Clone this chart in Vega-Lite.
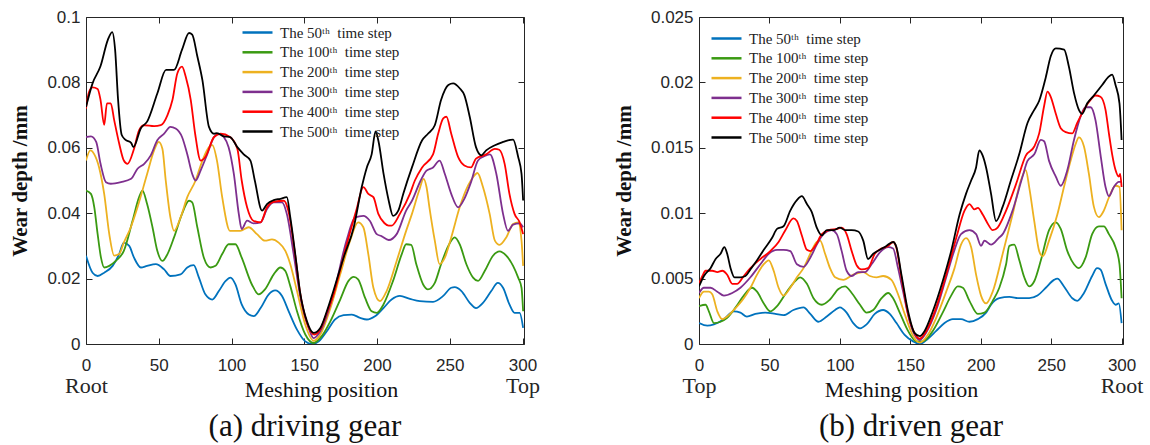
{
"$schema": "https://vega.github.io/schema/vega-lite/v6.json",
"autosize": {"type": "pad"},
"padding": {"left": 9, "top": 7, "right": 0, "bottom": 0},
"background": "white",
"datasets": {
"a": [
{"s":50,"x":0,"y":0.027},{"s":50,"x":4.5,"y":0.0218},{"s":50,"x":8,"y":0.0208},{"s":50,"x":12.5,"y":0.0218},{"s":50,"x":18.3,"y":0.0239},{"s":50,"x":22.8,"y":0.0275},{"s":50,"x":26,"y":0.031},{"s":50,"x":29.7,"y":0.03},{"s":50,"x":33,"y":0.0264},{"s":50,"x":37.7,"y":0.0234},{"s":50,"x":42,"y":0.0239},{"s":50,"x":48,"y":0.0244},{"s":50,"x":53.7,"y":0.0228},{"s":50,"x":58,"y":0.0208},{"s":50,"x":65,"y":0.0213},{"s":50,"x":69.6,"y":0.0234},{"s":50,"x":74,"y":0.0241},{"s":50,"x":77.6,"y":0.0203},{"s":50,"x":82,"y":0.0152},{"s":50,"x":86.8,"y":0.0136},{"s":50,"x":91.3,"y":0.0162},{"s":50,"x":96,"y":0.0193},{"s":50,"x":99.3,"y":0.0203},{"s":50,"x":102.7,"y":0.0182},{"s":50,"x":107,"y":0.0121},{"s":50,"x":111.9,"y":0.009},{"s":50,"x":115.3,"y":0.0085},{"s":50,"x":120,"y":0.011},{"s":50,"x":125.6,"y":0.0152},{"s":50,"x":130,"y":0.0164},{"s":50,"x":134.7,"y":0.0147},{"s":50,"x":139.3,"y":0.01},{"s":50,"x":145,"y":0.0044},{"s":50,"x":150.7,"y":0.0008},{"s":50,"x":155.3,"y":0},{"s":50,"x":160,"y":0.0008},{"s":50,"x":165.5,"y":0.0039},{"s":50,"x":171.2,"y":0.0075},{"s":50,"x":177,"y":0.0088},{"s":50,"x":182.7,"y":0.009},{"s":50,"x":188.4,"y":0.008},{"s":50,"x":193,"y":0.0075},{"s":50,"x":198.6,"y":0.0085},{"s":50,"x":204.4,"y":0.011},{"s":50,"x":210,"y":0.0136},{"s":50,"x":215.7,"y":0.0147},{"s":50,"x":222.6,"y":0.0138},{"s":50,"x":229.4,"y":0.0131},{"s":50,"x":238.5,"y":0.0129},{"s":50,"x":245.5,"y":0.0147},{"s":50,"x":251,"y":0.0172},{"s":50,"x":253.4,"y":0.0174},{"s":50,"x":258,"y":0.0162},{"s":50,"x":263.7,"y":0.0126},{"s":50,"x":268,"y":0.011},{"s":50,"x":272.8,"y":0.0126},{"s":50,"x":278.5,"y":0.0162},{"s":50,"x":283,"y":0.0187},{"s":50,"x":286.6,"y":0.0172},{"s":50,"x":291,"y":0.0121},{"s":50,"x":294.5,"y":0.0095},{"s":50,"x":298,"y":0.0095},{"s":50,"x":300.4,"y":0.0049},
{"s":100,"x":0,"y":0.0469},{"s":100,"x":3.4,"y":0.0459},{"s":100,"x":5.7,"y":0.0418},{"s":100,"x":8,"y":0.0336},{"s":100,"x":10.3,"y":0.0264},{"s":100,"x":12.5,"y":0.0234},{"s":100,"x":16,"y":0.0239},{"s":100,"x":20.5,"y":0.0254},{"s":100,"x":26,"y":0.0285},{"s":100,"x":32,"y":0.0377},{"s":100,"x":36.5,"y":0.0449},{"s":100,"x":38.8,"y":0.0469},{"s":100,"x":42,"y":0.0428},{"s":100,"x":45.7,"y":0.0357},{"s":100,"x":49,"y":0.0285},{"s":100,"x":52.5,"y":0.0254},{"s":100,"x":56,"y":0.0275},{"s":100,"x":60.5,"y":0.0326},{"s":100,"x":66,"y":0.0398},{"s":100,"x":70.8,"y":0.0438},{"s":100,"x":73,"y":0.0433},{"s":100,"x":76.5,"y":0.0357},{"s":100,"x":81,"y":0.0264},{"s":100,"x":85.6,"y":0.0234},{"s":100,"x":89,"y":0.0239},{"s":100,"x":93.6,"y":0.0275},{"s":100,"x":98,"y":0.0305},{"s":100,"x":102.7,"y":0.0305},{"s":100,"x":107,"y":0.0264},{"s":100,"x":114,"y":0.0182},{"s":100,"x":118.7,"y":0.0152},{"s":100,"x":123,"y":0.0167},{"s":100,"x":129,"y":0.0213},{"s":100,"x":133.6,"y":0.0234},{"s":100,"x":137,"y":0.0223},{"s":100,"x":140.4,"y":0.0177},{"s":100,"x":145,"y":0.01},{"s":100,"x":150.7,"y":0.0029},{"s":100,"x":156.4,"y":0.0003},{"s":100,"x":162,"y":0.0024},{"s":100,"x":168,"y":0.007},{"s":100,"x":174.7,"y":0.0136},{"s":100,"x":180.4,"y":0.0193},{"s":100,"x":184,"y":0.0205},{"s":100,"x":187,"y":0.0198},{"s":100,"x":191.8,"y":0.0141},{"s":100,"x":196.3,"y":0.01},{"s":100,"x":199.8,"y":0.0095},{"s":100,"x":204.4,"y":0.0121},{"s":100,"x":211,"y":0.0193},{"s":100,"x":217,"y":0.0275},{"s":100,"x":220,"y":0.0305},{"s":100,"x":223.5,"y":0.0303},{"s":100,"x":227,"y":0.0244},{"s":100,"x":231.7,"y":0.0182},{"s":100,"x":235,"y":0.0167},{"s":100,"x":239.7,"y":0.0187},{"s":100,"x":244,"y":0.0244},{"s":100,"x":249,"y":0.03},{"s":100,"x":253.4,"y":0.0326},{"s":100,"x":256.8,"y":0.0305},{"s":100,"x":261.4,"y":0.0244},{"s":100,"x":266,"y":0.0203},{"s":100,"x":269.4,"y":0.0193},{"s":100,"x":274,"y":0.0223},{"s":100,"x":279.7,"y":0.027},{"s":100,"x":284.2,"y":0.0283},{"s":100,"x":288.8,"y":0.027},{"s":100,"x":293.5,"y":0.0239},{"s":100,"x":297,"y":0.0203},{"s":100,"x":299.3,"y":0.0172},{"s":100,"x":300.4,"y":0.01},
{"s":200,"x":0,"y":0.0561},{"s":200,"x":3,"y":0.0592},{"s":200,"x":5.7,"y":0.058},{"s":200,"x":9,"y":0.054},{"s":200,"x":12.5,"y":0.0459},{"s":200,"x":16,"y":0.0336},{"s":200,"x":19.4,"y":0.027},{"s":200,"x":22.8,"y":0.0275},{"s":200,"x":26,"y":0.031},{"s":200,"x":30.8,"y":0.0357},{"s":200,"x":35.4,"y":0.0418},{"s":200,"x":42,"y":0.052},{"s":200,"x":46.8,"y":0.0592},{"s":200,"x":50,"y":0.0618},{"s":200,"x":52.5,"y":0.0597},{"s":200,"x":54.8,"y":0.05},{"s":200,"x":58,"y":0.0387},{"s":200,"x":60.5,"y":0.0346},{"s":200,"x":65,"y":0.0387},{"s":200,"x":69.6,"y":0.0449},{"s":200,"x":75.3,"y":0.05},{"s":200,"x":80,"y":0.0561},{"s":200,"x":84.5,"y":0.0602},{"s":200,"x":86.8,"y":0.0608},{"s":200,"x":90,"y":0.0561},{"s":200,"x":93.6,"y":0.0449},{"s":200,"x":99,"y":0.0346},{"s":200,"x":106,"y":0.0346},{"s":200,"x":111.8,"y":0.0357},{"s":200,"x":117.5,"y":0.0336},{"s":200,"x":123,"y":0.0316},{"s":200,"x":127.8,"y":0.032},{"s":200,"x":132.4,"y":0.031},{"s":200,"x":137,"y":0.0285},{"s":200,"x":140.4,"y":0.0244},{"s":200,"x":145,"y":0.0162},{"s":200,"x":150.7,"y":0.0059},{"s":200,"x":156.4,"y":0.001},{"s":200,"x":161,"y":0.0029},{"s":200,"x":168,"y":0.011},{"s":200,"x":174.7,"y":0.0213},{"s":200,"x":181.5,"y":0.0316},{"s":200,"x":187,"y":0.0372},{"s":200,"x":190.6,"y":0.0357},{"s":200,"x":194,"y":0.0275},{"s":200,"x":197.5,"y":0.0172},{"s":200,"x":202,"y":0.0131},{"s":200,"x":206.6,"y":0.0162},{"s":200,"x":213.5,"y":0.0254},{"s":200,"x":220,"y":0.0346},{"s":200,"x":224,"y":0.0398},{"s":200,"x":229,"y":0.047},{"s":200,"x":232,"y":0.0505},{"s":200,"x":234,"y":0.048},{"s":200,"x":236,"y":0.0418},{"s":200,"x":239.7,"y":0.0316},{"s":200,"x":243,"y":0.0244},{"s":200,"x":246.6,"y":0.0264},{"s":200,"x":251,"y":0.0326},{"s":200,"x":256.8,"y":0.0418},{"s":200,"x":262.6,"y":0.0485},{"s":200,"x":266,"y":0.051},{"s":200,"x":269,"y":0.0523},{"s":200,"x":272.8,"y":0.048},{"s":200,"x":277.4,"y":0.0398},{"s":200,"x":281,"y":0.0316},{"s":200,"x":284.2,"y":0.0303},{"s":200,"x":288.8,"y":0.0326},{"s":200,"x":293.5,"y":0.0367},{"s":200,"x":297,"y":0.0372},{"s":200,"x":299.3,"y":0.0316},{"s":200,"x":300.4,"y":0.0239},
{"s":300,"x":0,"y":0.0633},{"s":300,"x":3.4,"y":0.0635},{"s":300,"x":7,"y":0.0618},{"s":300,"x":10,"y":0.0551},{"s":300,"x":13.7,"y":0.0495},{"s":300,"x":17,"y":0.049},{"s":300,"x":24,"y":0.0495},{"s":300,"x":31,"y":0.0505},{"s":300,"x":35.4,"y":0.0536},{"s":300,"x":40,"y":0.0551},{"s":300,"x":44.5,"y":0.0577},{"s":300,"x":49,"y":0.0623},{"s":300,"x":53.7,"y":0.0643},{"s":300,"x":58,"y":0.0664},{"s":300,"x":61.6,"y":0.0659},{"s":300,"x":66,"y":0.0633},{"s":300,"x":69.6,"y":0.058},{"s":300,"x":73,"y":0.052},{"s":300,"x":75.3,"y":0.05},{"s":300,"x":78.8,"y":0.0531},{"s":300,"x":83.3,"y":0.058},{"s":300,"x":88,"y":0.0633},{"s":300,"x":91.3,"y":0.0643},{"s":300,"x":94.7,"y":0.0633},{"s":300,"x":98,"y":0.0602},{"s":300,"x":101.6,"y":0.052},{"s":300,"x":105,"y":0.0398},{"s":300,"x":107,"y":0.0351},{"s":300,"x":110.7,"y":0.0377},{"s":300,"x":115,"y":0.0369},{"s":300,"x":120,"y":0.0372},{"s":300,"x":124.4,"y":0.0413},{"s":300,"x":129,"y":0.0433},{"s":300,"x":134.7,"y":0.0433},{"s":300,"x":138,"y":0.0398},{"s":300,"x":142.7,"y":0.0275},{"s":300,"x":147,"y":0.0152},{"s":300,"x":153,"y":0.0049},{"s":300,"x":156.4,"y":0.0018},{"s":300,"x":161,"y":0.0039},{"s":300,"x":170,"y":0.0152},{"s":300,"x":179,"y":0.0316},{"s":300,"x":185,"y":0.0387},{"s":300,"x":190.6,"y":0.0392},{"s":300,"x":195,"y":0.0377},{"s":300,"x":199.8,"y":0.0336},{"s":300,"x":203,"y":0.033},{"s":300,"x":208,"y":0.0318},{"s":300,"x":213.5,"y":0.0336},{"s":300,"x":220,"y":0.0408},{"s":300,"x":224,"y":0.0438},{"s":300,"x":230,"y":0.05},{"s":300,"x":234,"y":0.053},{"s":300,"x":238.5,"y":0.054},{"s":300,"x":243,"y":0.0561},{"s":300,"x":246.6,"y":0.052},{"s":300,"x":251,"y":0.0459},{"s":300,"x":255.7,"y":0.0418},{"s":300,"x":260,"y":0.0444},{"s":300,"x":264.6,"y":0.0495},{"s":300,"x":269.4,"y":0.0561},{"s":300,"x":275,"y":0.0577},{"s":300,"x":277.6,"y":0.058},{"s":300,"x":282,"y":0.052},{"s":300,"x":286.6,"y":0.0398},{"s":300,"x":290,"y":0.0346},{"s":300,"x":293.5,"y":0.0365},{"s":300,"x":298,"y":0.0369},{"s":300,"x":300.4,"y":0.0357},
{"s":400,"x":0,"y":0.072},{"s":400,"x":2,"y":0.077},{"s":400,"x":4.5,"y":0.0785},{"s":400,"x":8,"y":0.078},{"s":400,"x":10,"y":0.0746},{"s":400,"x":12.5,"y":0.067},{"s":400,"x":14.4,"y":0.0736},{"s":400,"x":17,"y":0.0736},{"s":400,"x":19.4,"y":0.0684},{"s":400,"x":22.8,"y":0.0613},{"s":400,"x":26,"y":0.0561},{"s":400,"x":28.5,"y":0.0551},{"s":400,"x":33,"y":0.0597},{"s":400,"x":36.5,"y":0.0654},{"s":400,"x":40,"y":0.0669},{"s":400,"x":46.8,"y":0.0666},{"s":400,"x":51.4,"y":0.0669},{"s":400,"x":56,"y":0.07},{"s":400,"x":59.4,"y":0.0746},{"s":400,"x":62.8,"y":0.0828},{"s":400,"x":66,"y":0.0848},{"s":400,"x":68.5,"y":0.0818},{"s":400,"x":72,"y":0.0746},{"s":400,"x":75,"y":0.0643},{"s":400,"x":78.8,"y":0.0561},{"s":400,"x":82,"y":0.0572},{"s":400,"x":88,"y":0.0633},{"s":400,"x":92.5,"y":0.0643},{"s":400,"x":99,"y":0.0633},{"s":400,"x":104,"y":0.0597},{"s":400,"x":107,"y":0.05},{"s":400,"x":110.7,"y":0.0418},{"s":400,"x":115,"y":0.0377},{"s":400,"x":119.9,"y":0.0372},{"s":400,"x":124.4,"y":0.0418},{"s":400,"x":129,"y":0.0435},{"s":400,"x":136,"y":0.0438},{"s":400,"x":139,"y":0.0408},{"s":400,"x":143.8,"y":0.027},{"s":400,"x":147,"y":0.016},{"s":400,"x":151.8,"y":0.0065},{"s":400,"x":157,"y":0.0029},{"s":400,"x":161,"y":0.0045},{"s":400,"x":165.5,"y":0.0095},{"s":400,"x":170,"y":0.015},{"s":400,"x":179.2,"y":0.0305},{"s":400,"x":186,"y":0.0413},{"s":400,"x":190.6,"y":0.048},{"s":400,"x":194,"y":0.0459},{"s":400,"x":197.5,"y":0.0449},{"s":400,"x":200.9,"y":0.0398},{"s":400,"x":205,"y":0.037},{"s":400,"x":208,"y":0.0362},{"s":400,"x":210,"y":0.0362},{"s":400,"x":215.7,"y":0.0398},{"s":400,"x":222.6,"y":0.0459},{"s":400,"x":226,"y":0.05},{"s":400,"x":231,"y":0.054},{"s":400,"x":238.5,"y":0.058},{"s":400,"x":242,"y":0.0643},{"s":400,"x":245.5,"y":0.069},{"s":400,"x":247.7,"y":0.0695},{"s":400,"x":251,"y":0.0643},{"s":400,"x":255.7,"y":0.0572},{"s":400,"x":260,"y":0.0546},{"s":400,"x":264.6,"y":0.054},{"s":400,"x":268,"y":0.0567},{"s":400,"x":275,"y":0.058},{"s":400,"x":281,"y":0.0597},{"s":400,"x":284,"y":0.0594},{"s":400,"x":287.7,"y":0.0551},{"s":400,"x":291,"y":0.0459},{"s":400,"x":294.5,"y":0.0398},{"s":400,"x":298,"y":0.0372},{"s":400,"x":300.4,"y":0.0336},
{"s":500,"x":0,"y":0.0725},{"s":500,"x":4.5,"y":0.0797},{"s":500,"x":10,"y":0.085},{"s":500,"x":15,"y":0.093},{"s":500,"x":18,"y":0.0954},{"s":500,"x":20,"y":0.09},{"s":500,"x":22,"y":0.075},{"s":500,"x":24.5,"y":0.064},{"s":500,"x":27,"y":0.0625},{"s":500,"x":31,"y":0.0615},{"s":500,"x":32.6,"y":0.0602},{"s":500,"x":37.7,"y":0.066},{"s":500,"x":42,"y":0.068},{"s":500,"x":49,"y":0.0766},{"s":500,"x":55,"y":0.0838},{"s":500,"x":60.5,"y":0.0838},{"s":500,"x":66,"y":0.09},{"s":500,"x":70.8,"y":0.0951},{"s":500,"x":73,"y":0.0946},{"s":500,"x":76.5,"y":0.088},{"s":500,"x":80,"y":0.0807},{"s":500,"x":84.5,"y":0.0664},{"s":500,"x":88,"y":0.0643},{"s":500,"x":90,"y":0.0645},{"s":500,"x":94.7,"y":0.0635},{"s":500,"x":99,"y":0.0633},{"s":500,"x":104,"y":0.0602},{"s":500,"x":108.4,"y":0.058},{"s":500,"x":113,"y":0.0561},{"s":500,"x":116,"y":0.05},{"s":500,"x":121,"y":0.0408},{"s":500,"x":124.4,"y":0.0428},{"s":500,"x":129,"y":0.044},{"s":500,"x":133.6,"y":0.0444},{"s":500,"x":138,"y":0.0449},{"s":500,"x":140.4,"y":0.0387},{"s":500,"x":143.8,"y":0.0275},{"s":500,"x":147,"y":0.0162},{"s":500,"x":151.8,"y":0.007},{"s":500,"x":156.4,"y":0.0034},{"s":500,"x":161,"y":0.0049},{"s":500,"x":165.5,"y":0.01},{"s":500,"x":170,"y":0.0162},{"s":500,"x":177,"y":0.0264},{"s":500,"x":184,"y":0.0357},{"s":500,"x":189.5,"y":0.048},{"s":500,"x":193,"y":0.054},{"s":500,"x":196.3,"y":0.058},{"s":500,"x":199,"y":0.065},{"s":500,"x":201,"y":0.062},{"s":500,"x":204.5,"y":0.052},{"s":500,"x":208,"y":0.0439},{"s":500,"x":211,"y":0.0392},{"s":500,"x":214.6,"y":0.0408},{"s":500,"x":218,"y":0.0459},{"s":500,"x":224,"y":0.054},{"s":500,"x":231,"y":0.0623},{"s":500,"x":235,"y":0.0643},{"s":500,"x":239.7,"y":0.0669},{"s":500,"x":244,"y":0.0746},{"s":500,"x":249,"y":0.0792},{"s":500,"x":252.3,"y":0.0797},{"s":500,"x":256.8,"y":0.0782},{"s":500,"x":260,"y":0.0761},{"s":500,"x":263.7,"y":0.0695},{"s":500,"x":268,"y":0.0602},{"s":500,"x":271.7,"y":0.0577},{"s":500,"x":275,"y":0.0592},{"s":500,"x":281,"y":0.0608},{"s":500,"x":286.6,"y":0.0618},{"s":500,"x":290,"y":0.0623},{"s":500,"x":293.5,"y":0.0625},{"s":500,"x":297,"y":0.0572},{"s":500,"x":299.3,"y":0.052},{"s":500,"x":300.4,"y":0.0439}
],
"b": [
{"s":50,"x":0,"y":0.0016},{"s":50,"x":5.9,"y":0.0014},{"s":50,"x":10.6,"y":0.0015},{"s":50,"x":17.7,"y":0.0019},{"s":50,"x":24.7,"y":0.0025},{"s":50,"x":29.4,"y":0.0024},{"s":50,"x":34,"y":0.0021},{"s":50,"x":40,"y":0.0023},{"s":50,"x":47,"y":0.0024},{"s":50,"x":54.2,"y":0.0023},{"s":50,"x":60,"y":0.0022},{"s":50,"x":67,"y":0.0026},{"s":50,"x":74.2,"y":0.0028},{"s":50,"x":79,"y":0.0023},{"s":50,"x":84.8,"y":0.0017},{"s":50,"x":90.7,"y":0.0021},{"s":50,"x":96.6,"y":0.0026},{"s":50,"x":100,"y":0.0028},{"s":50,"x":104.8,"y":0.0024},{"s":50,"x":109.5,"y":0.0016},{"s":50,"x":114.3,"y":0.0012},{"s":50,"x":119,"y":0.0015},{"s":50,"x":124.8,"y":0.0023},{"s":50,"x":130.7,"y":0.0026},{"s":50,"x":135.4,"y":0.0023},{"s":50,"x":140.2,"y":0.0016},{"s":50,"x":146,"y":0.0007},{"s":50,"x":152,"y":0.0002},{"s":50,"x":156.7,"y":0},{"s":50,"x":162.5,"y":0.0004},{"s":50,"x":168.4,"y":0.001},{"s":50,"x":174.3,"y":0.0016},{"s":50,"x":180.2,"y":0.0019},{"s":50,"x":186,"y":0.0019},{"s":50,"x":192,"y":0.0017},{"s":50,"x":197.9,"y":0.0019},{"s":50,"x":203.8,"y":0.0024},{"s":50,"x":207.3,"y":0.003},{"s":50,"x":213.2,"y":0.0035},{"s":50,"x":220.3,"y":0.0036},{"s":50,"x":227.4,"y":0.0035},{"s":50,"x":234.4,"y":0.0035},{"s":50,"x":240.3,"y":0.0037},{"s":50,"x":246.2,"y":0.0043},{"s":50,"x":252,"y":0.0049},{"s":50,"x":254.4,"y":0.005},{"s":50,"x":259.1,"y":0.0044},{"s":50,"x":265,"y":0.0035},{"s":50,"x":268.5,"y":0.0033},{"s":50,"x":273.3,"y":0.0039},{"s":50,"x":279.1,"y":0.0052},{"s":50,"x":282.6,"y":0.0058},{"s":50,"x":285,"y":0.0057},{"s":50,"x":288.6,"y":0.0046},{"s":50,"x":293.3,"y":0.0033},{"s":50,"x":295.7,"y":0.003},{"s":50,"x":298,"y":0.0031},{"s":50,"x":300,"y":0.0016},
{"s":100,"x":0,"y":0.0029},{"s":100,"x":4.7,"y":0.003},{"s":100,"x":7,"y":0.0025},{"s":100,"x":10.6,"y":0.0016},{"s":100,"x":15.3,"y":0.0017},{"s":100,"x":20,"y":0.002},{"s":100,"x":26,"y":0.0028},{"s":100,"x":31.8,"y":0.0037},{"s":100,"x":37.7,"y":0.0043},{"s":100,"x":41.2,"y":0.004},{"s":100,"x":46,"y":0.0031},{"s":100,"x":50.6,"y":0.0025},{"s":100,"x":55.4,"y":0.0029},{"s":100,"x":62.4,"y":0.004},{"s":100,"x":68.3,"y":0.0048},{"s":100,"x":71.8,"y":0.0051},{"s":100,"x":76.6,"y":0.0046},{"s":100,"x":81.3,"y":0.0035},{"s":100,"x":87.2,"y":0.003},{"s":100,"x":93,"y":0.0034},{"s":100,"x":99,"y":0.0042},{"s":100,"x":103.7,"y":0.0044},{"s":100,"x":108.4,"y":0.0039},{"s":100,"x":114.3,"y":0.003},{"s":100,"x":119,"y":0.0024},{"s":100,"x":123.7,"y":0.0026},{"s":100,"x":129.6,"y":0.0035},{"s":100,"x":134.3,"y":0.0039},{"s":100,"x":137.8,"y":0.0035},{"s":100,"x":142.5,"y":0.0024},{"s":100,"x":148.4,"y":0.001},{"s":100,"x":154.3,"y":0.0002},{"s":100,"x":159,"y":0.0002},{"s":100,"x":166,"y":0.001},{"s":100,"x":173,"y":0.0024},{"s":100,"x":179,"y":0.0037},{"s":100,"x":183.7,"y":0.0044},{"s":100,"x":187.3,"y":0.0043},{"s":100,"x":192,"y":0.0033},{"s":100,"x":197.9,"y":0.0023},{"s":100,"x":202.6,"y":0.0024},{"s":100,"x":208.5,"y":0.0033},{"s":100,"x":213.2,"y":0.0043},{"s":100,"x":218,"y":0.0061},{"s":100,"x":220.3,"y":0.0075},{"s":100,"x":223.8,"y":0.0076},{"s":100,"x":227.4,"y":0.0064},{"s":100,"x":230.9,"y":0.0051},{"s":100,"x":234.4,"y":0.0044},{"s":100,"x":238,"y":0.0048},{"s":100,"x":242.7,"y":0.0064},{"s":100,"x":248.5,"y":0.0087},{"s":100,"x":253.3,"y":0.0093},{"s":100,"x":256.8,"y":0.0088},{"s":100,"x":261.5,"y":0.0071},{"s":100,"x":266.2,"y":0.0061},{"s":100,"x":269.7,"y":0.0058},{"s":100,"x":274.4,"y":0.0066},{"s":100,"x":279.1,"y":0.0084},{"s":100,"x":283.9,"y":0.009},{"s":100,"x":287.4,"y":0.009},{"s":100,"x":291,"y":0.0084},{"s":100,"x":295.7,"y":0.0074},{"s":100,"x":298.5,"y":0.0061},{"s":100,"x":300,"y":0.0035},
{"s":200,"x":0,"y":0.0035},{"s":200,"x":3.5,"y":0.004},{"s":200,"x":7,"y":0.004},{"s":200,"x":9.4,"y":0.0038},{"s":200,"x":13,"y":0.0025},{"s":200,"x":16.5,"y":0.0019},{"s":200,"x":20,"y":0.0021},{"s":200,"x":24.7,"y":0.0026},{"s":200,"x":31.8,"y":0.0035},{"s":200,"x":36.5,"y":0.0043},{"s":200,"x":41.2,"y":0.0053},{"s":200,"x":46,"y":0.0061},{"s":200,"x":49.5,"y":0.0064},{"s":200,"x":53,"y":0.0056},{"s":200,"x":56.5,"y":0.0043},{"s":200,"x":60,"y":0.0037},{"s":200,"x":64.8,"y":0.0043},{"s":200,"x":69.5,"y":0.0051},{"s":200,"x":74.2,"y":0.0058},{"s":200,"x":79,"y":0.0069},{"s":200,"x":83.6,"y":0.0078},{"s":200,"x":86,"y":0.0079},{"s":200,"x":89.5,"y":0.0069},{"s":200,"x":93,"y":0.0058},{"s":200,"x":96.6,"y":0.0051},{"s":200,"x":102.5,"y":0.0049},{"s":200,"x":109.5,"y":0.0053},{"s":200,"x":116.6,"y":0.0055},{"s":200,"x":121.3,"y":0.0052},{"s":200,"x":126,"y":0.0051},{"s":200,"x":130.7,"y":0.0052},{"s":200,"x":136.6,"y":0.0049},{"s":200,"x":141.3,"y":0.0038},{"s":200,"x":146,"y":0.0023},{"s":200,"x":152,"y":0.0006},{"s":200,"x":156.7,"y":0.0001},{"s":200,"x":162.5,"y":0.0007},{"s":200,"x":168.4,"y":0.002},{"s":200,"x":175.5,"y":0.004},{"s":200,"x":181.4,"y":0.0058},{"s":200,"x":186,"y":0.0076},{"s":200,"x":189.6,"y":0.0081},{"s":200,"x":193.2,"y":0.0074},{"s":200,"x":196.7,"y":0.0053},{"s":200,"x":200.2,"y":0.0037},{"s":200,"x":203.8,"y":0.0031},{"s":200,"x":208.5,"y":0.004},{"s":200,"x":215.6,"y":0.0069},{"s":200,"x":222.6,"y":0.0099},{"s":200,"x":228.5,"y":0.0125},{"s":200,"x":232,"y":0.0133},{"s":200,"x":234.4,"y":0.012},{"s":200,"x":238,"y":0.0094},{"s":200,"x":241.5,"y":0.0071},{"s":200,"x":244,"y":0.0067},{"s":200,"x":248.5,"y":0.0079},{"s":200,"x":254.4,"y":0.0099},{"s":200,"x":259.1,"y":0.012},{"s":200,"x":263.8,"y":0.014},{"s":200,"x":267.4,"y":0.0153},{"s":200,"x":269.7,"y":0.0158},{"s":200,"x":273.3,"y":0.0151},{"s":200,"x":276.8,"y":0.013},{"s":200,"x":280.3,"y":0.0105},{"s":200,"x":283.9,"y":0.0097},{"s":200,"x":287.4,"y":0.0102},{"s":200,"x":291,"y":0.0112},{"s":200,"x":295.7,"y":0.0121},{"s":200,"x":298.5,"y":0.012},{"s":200,"x":300,"y":0.0087},
{"s":300,"x":0,"y":0.0039},{"s":300,"x":3.5,"y":0.0043},{"s":300,"x":8.2,"y":0.0043},{"s":300,"x":13,"y":0.004},{"s":300,"x":17.7,"y":0.0037},{"s":300,"x":23.6,"y":0.0039},{"s":300,"x":29.4,"y":0.0043},{"s":300,"x":36.5,"y":0.0051},{"s":300,"x":43.6,"y":0.0061},{"s":300,"x":49.5,"y":0.0069},{"s":300,"x":55.4,"y":0.0072},{"s":300,"x":60,"y":0.0072},{"s":300,"x":64.8,"y":0.0071},{"s":300,"x":69.5,"y":0.0061},{"s":300,"x":74.2,"y":0.0059},{"s":300,"x":79,"y":0.0066},{"s":300,"x":83.6,"y":0.0076},{"s":300,"x":88.3,"y":0.0084},{"s":300,"x":94.2,"y":0.0087},{"s":300,"x":97.8,"y":0.0084},{"s":300,"x":101.3,"y":0.0071},{"s":300,"x":104.8,"y":0.0056},{"s":300,"x":108.4,"y":0.0052},{"s":300,"x":113,"y":0.0055},{"s":300,"x":117.8,"y":0.0055},{"s":300,"x":122.5,"y":0.0061},{"s":300,"x":128.4,"y":0.007},{"s":300,"x":134.3,"y":0.0074},{"s":300,"x":137.8,"y":0.0073},{"s":300,"x":141.3,"y":0.0058},{"s":300,"x":144.9,"y":0.004},{"s":300,"x":149.6,"y":0.0017},{"s":300,"x":154.3,"y":0.0005},{"s":300,"x":156.7,"y":0.0003},{"s":300,"x":161.4,"y":0.0009},{"s":300,"x":168.4,"y":0.0026},{"s":300,"x":175.5,"y":0.0051},{"s":300,"x":181.4,"y":0.0072},{"s":300,"x":186,"y":0.0084},{"s":300,"x":192,"y":0.0087},{"s":300,"x":196.7,"y":0.0084},{"s":300,"x":200.2,"y":0.0075},{"s":300,"x":202.6,"y":0.0079},{"s":300,"x":207.3,"y":0.0076},{"s":300,"x":212.7,"y":0.0081},{"s":300,"x":215.6,"y":0.0084},{"s":300,"x":222.6,"y":0.0102},{"s":300,"x":229.7,"y":0.0128},{"s":300,"x":233.2,"y":0.014},{"s":300,"x":238,"y":0.0145},{"s":300,"x":242.7,"y":0.0156},{"s":300,"x":245,"y":0.0155},{"s":300,"x":248.5,"y":0.014},{"s":300,"x":253.3,"y":0.0128},{"s":300,"x":256.8,"y":0.0121},{"s":300,"x":261.5,"y":0.0133},{"s":300,"x":266.2,"y":0.0156},{"s":300,"x":270.9,"y":0.0174},{"s":300,"x":274.4,"y":0.0181},{"s":300,"x":278,"y":0.0181},{"s":300,"x":281.5,"y":0.0171},{"s":300,"x":285,"y":0.0145},{"s":300,"x":288.6,"y":0.012},{"s":300,"x":291,"y":0.0113},{"s":300,"x":294.5,"y":0.012},{"s":300,"x":298,"y":0.0124},{"s":300,"x":300,"y":0.0124},
{"s":400,"x":0,"y":0.0046},{"s":400,"x":2.4,"y":0.0052},{"s":400,"x":4.7,"y":0.0056},{"s":400,"x":9.4,"y":0.0056},{"s":400,"x":13,"y":0.0055},{"s":400,"x":16.5,"y":0.0056},{"s":400,"x":20,"y":0.0053},{"s":400,"x":23.6,"y":0.0046},{"s":400,"x":27,"y":0.0046},{"s":400,"x":31.8,"y":0.0052},{"s":400,"x":36.5,"y":0.0058},{"s":400,"x":43.6,"y":0.0065},{"s":400,"x":50.6,"y":0.0071},{"s":400,"x":56.5,"y":0.0078},{"s":400,"x":61.3,"y":0.0087},{"s":400,"x":67,"y":0.0096},{"s":400,"x":69.5,"y":0.0094},{"s":400,"x":73,"y":0.0083},{"s":400,"x":76.6,"y":0.0072},{"s":400,"x":79,"y":0.0071},{"s":400,"x":82.5,"y":0.0075},{"s":400,"x":87.2,"y":0.0084},{"s":400,"x":92,"y":0.0087},{"s":400,"x":97.8,"y":0.0088},{"s":400,"x":101.3,"y":0.0089},{"s":400,"x":104.8,"y":0.0084},{"s":400,"x":108.4,"y":0.0071},{"s":400,"x":112,"y":0.006},{"s":400,"x":115.4,"y":0.0057},{"s":400,"x":120,"y":0.0058},{"s":400,"x":124.8,"y":0.0069},{"s":400,"x":129.5,"y":0.0073},{"s":400,"x":134.3,"y":0.0075},{"s":400,"x":137.8,"y":0.0078},{"s":400,"x":140,"y":0.0074},{"s":400,"x":143.7,"y":0.0051},{"s":400,"x":148.4,"y":0.0023},{"s":400,"x":154.3,"y":0.0006},{"s":400,"x":156.7,"y":0.0004},{"s":400,"x":161.4,"y":0.001},{"s":400,"x":168.4,"y":0.0028},{"s":400,"x":175.5,"y":0.0053},{"s":400,"x":182.6,"y":0.0081},{"s":400,"x":188.5,"y":0.0102},{"s":400,"x":192,"y":0.0107},{"s":400,"x":195.5,"y":0.0103},{"s":400,"x":198,"y":0.0104},{"s":400,"x":201.4,"y":0.0099},{"s":400,"x":205,"y":0.0092},{"s":400,"x":208.5,"y":0.0087},{"s":400,"x":212,"y":0.0089},{"s":400,"x":218,"y":0.0102},{"s":400,"x":225,"y":0.0122},{"s":400,"x":232,"y":0.0144},{"s":400,"x":238,"y":0.0151},{"s":400,"x":241.5,"y":0.0161},{"s":400,"x":245,"y":0.0182},{"s":400,"x":247.4,"y":0.0193},{"s":400,"x":249.7,"y":0.0189},{"s":400,"x":253.3,"y":0.0176},{"s":400,"x":256.8,"y":0.0165},{"s":400,"x":260.4,"y":0.0162},{"s":400,"x":265,"y":0.0161},{"s":400,"x":268.5,"y":0.0169},{"s":400,"x":273.3,"y":0.0179},{"s":400,"x":276.8,"y":0.0185},{"s":400,"x":281.5,"y":0.019},{"s":400,"x":285,"y":0.0189},{"s":400,"x":288.6,"y":0.0179},{"s":400,"x":291,"y":0.0161},{"s":400,"x":293.3,"y":0.0145},{"s":400,"x":295.7,"y":0.0133},{"s":400,"x":298,"y":0.0128},{"s":400,"x":299,"y":0.013},{"s":400,"x":300,"y":0.012},
{"s":500,"x":0,"y":0.0044},{"s":500,"x":3.5,"y":0.0052},{"s":500,"x":8.2,"y":0.0058},{"s":500,"x":11.8,"y":0.0065},{"s":500,"x":15.3,"y":0.0069},{"s":500,"x":18,"y":0.0074},{"s":500,"x":20,"y":0.0069},{"s":500,"x":22.4,"y":0.0058},{"s":500,"x":25.2,"y":0.0051},{"s":500,"x":29.4,"y":0.0051},{"s":500,"x":33,"y":0.0052},{"s":500,"x":36.5,"y":0.0057},{"s":500,"x":41.2,"y":0.0064},{"s":500,"x":46,"y":0.0072},{"s":500,"x":51.8,"y":0.0081},{"s":500,"x":55.4,"y":0.0088},{"s":500,"x":60,"y":0.009},{"s":500,"x":64.8,"y":0.0102},{"s":500,"x":69.5,"y":0.011},{"s":500,"x":73,"y":0.0113},{"s":500,"x":76.6,"y":0.0107},{"s":500,"x":80,"y":0.0101},{"s":500,"x":83.6,"y":0.0089},{"s":500,"x":87.2,"y":0.0083},{"s":500,"x":90.7,"y":0.0087},{"s":500,"x":95.4,"y":0.0087},{"s":500,"x":100,"y":0.0089},{"s":500,"x":103.7,"y":0.0087},{"s":500,"x":108.4,"y":0.0087},{"s":500,"x":113,"y":0.0086},{"s":500,"x":116.6,"y":0.0079},{"s":500,"x":120,"y":0.0065},{"s":500,"x":123.7,"y":0.0069},{"s":500,"x":128.4,"y":0.0072},{"s":500,"x":133,"y":0.0075},{"s":500,"x":137.8,"y":0.0078},{"s":500,"x":140.2,"y":0.0074},{"s":500,"x":143.7,"y":0.0053},{"s":500,"x":148.4,"y":0.0025},{"s":500,"x":153,"y":0.00085},{"s":500,"x":156.7,"y":0.0006},{"s":500,"x":160.2,"y":0.001},{"s":500,"x":166,"y":0.0025},{"s":500,"x":173,"y":0.0048},{"s":500,"x":179,"y":0.0071},{"s":500,"x":185,"y":0.0099},{"s":500,"x":189.6,"y":0.0115},{"s":500,"x":193.2,"y":0.0125},{"s":500,"x":196.7,"y":0.0135},{"s":500,"x":199,"y":0.0148},{"s":500,"x":201.4,"y":0.0144},{"s":500,"x":203.8,"y":0.0135},{"s":500,"x":207.3,"y":0.0115},{"s":500,"x":210.9,"y":0.0094},{"s":500,"x":215.6,"y":0.0105},{"s":500,"x":221.4,"y":0.0125},{"s":500,"x":227.3,"y":0.0145},{"s":500,"x":233.2,"y":0.0169},{"s":500,"x":238,"y":0.0179},{"s":500,"x":241.5,"y":0.0186},{"s":500,"x":246.2,"y":0.0204},{"s":500,"x":249.7,"y":0.022},{"s":500,"x":253.3,"y":0.0226},{"s":500,"x":259.2,"y":0.0225},{"s":500,"x":262.6,"y":0.0212},{"s":500,"x":266.2,"y":0.0192},{"s":500,"x":269.7,"y":0.0179},{"s":500,"x":272,"y":0.0176},{"s":500,"x":275.6,"y":0.0184},{"s":500,"x":280.3,"y":0.019},{"s":500,"x":286.2,"y":0.0198},{"s":500,"x":290.5,"y":0.0204},{"s":500,"x":293.3,"y":0.0206},{"s":500,"x":295.7,"y":0.0198},{"s":500,"x":298.5,"y":0.0184},{"s":500,"x":300,"y":0.0156}
],
"ra": [{"x":0,"y":0}],
"ea": [{"x":0,"l":"Root"},{"x":300,"l":"Top"}],
"eb": [{"x":0,"l":"Top"},{"x":300,"l":"Root"}]
},
"spacing": 175,
"bounds": "flush",
"hconcat": [
{
"width": 438, "height": 327,
"title": {"text": "(a) driving gear", "orient": "bottom", "anchor": "middle", "font": "Liberation Serif", "fontSize": 31, "fontWeight": "normal", "color": "#111", "offset": 12},
"layer": [
{"data": {"name": "a"}, "mark": {"type": "line", "strokeWidth": 1.8, "clip": true, "interpolate": "monotone"},
"encoding": {
"x": {"field": "x", "type": "quantitative", "scale": {"domain": [0, 301], "nice": false, "zero": false},
"axis": {"orient": "bottom", "values": [0,50,100,150,200,250,300], "tickSize": -6, "labelPadding": 19, "labelFont": "Liberation Sans", "labelFontSize": 17, "title": "Meshing position", "titleFont": "Liberation Serif", "titleFontSize": 22, "titleFontWeight": "normal", "titlePadding": 6, "titleX": 235}},
"y": {"field": "y", "type": "quantitative", "scale": {"domain": [0, 0.1], "nice": false},
"axis": {"values": [0,0.02,0.04,0.06,0.08,0.1], "format": "~g", "tickSize": -6, "labelPadding": 12, "labelFont": "Liberation Sans", "labelFontSize": 17, "title": "Wear depth /mm", "titleFont": "Liberation Serif", "titleFontSize": 21, "titleFontWeight": "bold", "titlePadding": 16}},
"color": {"field": "s", "type": "nominal", "scale": {"domain": [50,100,200,300,400,500], "range": ["#0072BD","#3A9A12","#EDB120","#7E2F8E","#FF0000","#000000"]},
"legend": {"orient": "none", "legendX": 164, "legendY": 8, "title": null, "padding": 0, "symbolType": "M-3,0H3", "symbolSize": 100, "symbolStrokeWidth": 2.5, "labelFont": "Liberation Serif", "labelFontSize": 15, "labelColor": "#222", "labelOffset": 15, "rowPadding": 3.8, "labelExpr": "'The ' + datum.label + 'ᵗʰ\u00a0 time step'"}}
}},
{"data": {"name": "ra"}, "mark": {"type": "point", "opacity": 0},
"encoding": {
"x": {"field": "x", "type": "quantitative", "scale": {"domain": [0, 301], "nice": false, "zero": false}, "axis": {"orient": "top", "values": [0,50,100,150,200,250,300], "tickSize": -6, "labels": false, "title": null}},
"y": {"field": "y", "type": "quantitative", "scale": {"domain": [0, 0.1], "nice": false}, "axis": {"orient": "right", "values": [0,0.02,0.04,0.06,0.08,0.1], "tickSize": -6, "labels": false, "title": null}}
}},
{"data": {"name": "ea"}, "mark": {"type": "point", "opacity": 0},
"encoding": {
"x": {"field": "x", "type": "quantitative", "scale": {"domain": [0, 301], "nice": false, "zero": false}, "axis": {"orient": "bottom", "values": [0,300], "ticks": false, "labelPadding": 31, "labelFont": "Liberation Serif", "labelFontSize": 22, "labelExpr": "datum.value == 0 ? 'Root' : 'Top'", "title": null}}
}}
],
"resolve": {"scale": {"x": "independent", "y": "independent"}}
},
{
"width": 424, "height": 327,
"title": {"text": "(b) driven gear", "orient": "bottom", "anchor": "middle", "font": "Liberation Serif", "fontSize": 31, "fontWeight": "normal", "color": "#111", "offset": 12},
"layer": [
{"data": {"name": "b"}, "mark": {"type": "line", "strokeWidth": 1.8, "clip": true, "interpolate": "monotone"},
"encoding": {
"x": {"field": "x", "type": "quantitative", "scale": {"domain": [0, 301], "nice": false, "zero": false},
"axis": {"orient": "bottom", "values": [0,50,100,150,200,250,300], "tickSize": -6, "labelPadding": 19, "labelFont": "Liberation Sans", "labelFontSize": 17, "title": "Meshing position", "titleFont": "Liberation Serif", "titleFontSize": 22, "titleFontWeight": "normal", "titlePadding": 6, "titleX": 202}},
"y": {"field": "y", "type": "quantitative", "scale": {"domain": [0, 0.025], "nice": false},
"axis": {"values": [0,0.005,0.01,0.015,0.02,0.025], "format": "~g", "tickSize": -6, "labelPadding": 12, "labelFont": "Liberation Sans", "labelFontSize": 17, "title": "Wear depth /mm", "titleFont": "Liberation Serif", "titleFontSize": 21, "titleFontWeight": "bold", "titlePadding": 16}},
"color": {"field": "s", "type": "nominal", "scale": {"domain": [50,100,200,300,400,500], "range": ["#0072BD","#3A9A12","#EDB120","#7E2F8E","#FF0000","#000000"]},
"legend": {"orient": "none", "legendX": 20, "legendY": 14, "title": null, "padding": 0, "symbolType": "M-3,0H3", "symbolSize": 100, "symbolStrokeWidth": 2.5, "labelFont": "Liberation Serif", "labelFontSize": 15, "labelColor": "#222", "labelOffset": 15, "rowPadding": 3.8, "labelExpr": "'The ' + datum.label + 'ᵗʰ\u00a0 time step'"}}
}},
{"data": {"name": "ra"}, "mark": {"type": "point", "opacity": 0},
"encoding": {
"x": {"field": "x", "type": "quantitative", "scale": {"domain": [0, 301], "nice": false, "zero": false}, "axis": {"orient": "top", "values": [0,50,100,150,200,250,300], "tickSize": -6, "labels": false, "title": null}},
"y": {"field": "y", "type": "quantitative", "scale": {"domain": [0, 0.025], "nice": false}, "axis": {"orient": "right", "values": [0,0.005,0.01,0.015,0.02,0.025], "tickSize": -6, "labels": false, "title": null}}
}},
{"data": {"name": "eb"}, "mark": {"type": "point", "opacity": 0},
"encoding": {
"x": {"field": "x", "type": "quantitative", "scale": {"domain": [0, 301], "nice": false, "zero": false}, "axis": {"orient": "bottom", "values": [0,300], "ticks": false, "labelPadding": 31, "labelFont": "Liberation Serif", "labelFontSize": 22, "labelExpr": "datum.value == 0 ? 'Top' : 'Root'", "title": null}}
}}
],
"resolve": {"scale": {"x": "independent", "y": "independent"}}
}
],
"resolve": {"scale": {"color": "independent", "x": "independent", "y": "independent"}, "legend": {"color": "independent"}},
"config": {
"view": {"stroke": "#262626", "strokeWidth": 1},
"axis": {"grid": false, "domain": false, "labelFlush": false, "labelOverlap": false, "tickColor": "#262626", "labelColor": "#262626", "titleColor": "#111"},
"legend": {"labelLimit": 300}
}
}
